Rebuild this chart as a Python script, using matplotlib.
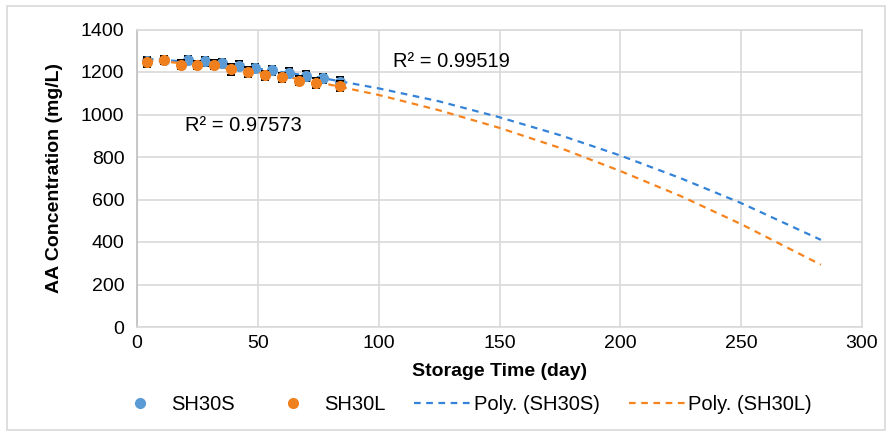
import matplotlib
matplotlib.use("Agg")
import matplotlib.pyplot as plt
from matplotlib.patches import Rectangle

plt.rcParams["font.family"] = ["Liberation Sans", "DejaVu Sans"]

# measured points
s_days = [4, 11, 21, 28, 35, 42, 49, 56, 63, 70, 77, 84]
s_vals = [1250, 1255, 1255, 1250, 1242, 1230, 1220, 1208, 1197, 1182, 1170, 1155]
s_err = [20, 18, 18, 20, 20, 22, 20, 22, 20, 22, 20, 22]

l_days = [4, 11, 18, 25, 32, 39, 46, 53, 60, 67, 74, 84]
l_vals = [1245, 1255, 1235, 1232, 1235, 1212, 1200, 1185, 1175, 1160, 1148, 1135]
l_err = [22, 18, 20, 20, 20, 25, 22, 22, 22, 22, 22, 25]

# polynomial trendlines
trend_days = [4, 25, 50, 75, 100, 125, 150, 175, 200, 225, 250, 283]
s_trend = [1262, 1245, 1216, 1175, 1123, 1062, 987, 903, 807, 700, 583, 410]
l_trend = [1256, 1235, 1199, 1152, 1092, 1020, 937, 843, 734, 616, 484, 293]

blue = "#5b9bd5"
orange = "#f07f1d"
blue_line = "#3483d8"
orange_line = "#f5841f"
grid = "#d9d9d9"

fig = plt.figure(figsize=(8.91, 4.37), dpi=100)
ax = fig.add_axes([137 / 891, 1 - 327 / 437, (862 - 137) / 891, (327 - 29.5) / 437])

fig.patches.append(Rectangle((7 / 891, 1 - 430 / 437), 878 / 891, 424 / 437,
                             transform=fig.transFigure, fill=False,
                             edgecolor=grid, lw=1.2))

(tr_s,) = ax.plot(trend_days, s_trend, color=blue_line, lw=1.6, dashes=(3, 2.5),
                  label="Poly. (SH30S)", zorder=2)
(tr_l,) = ax.plot(trend_days, l_trend, color=orange_line, lw=1.6, dashes=(3, 2.5),
                  label="Poly. (SH30L)", zorder=2)

eb_s = ax.errorbar(s_days, s_vals, yerr=s_err, fmt="o", color=blue, ms=7,
                   ecolor="black", elinewidth=1.4, capsize=3, capthick=1.4,
                   label="SH30S", zorder=3)
eb_l = ax.errorbar(l_days, l_vals, yerr=l_err, fmt="o", color=orange, ms=7,
                   ecolor="black", elinewidth=1.4, capsize=3, capthick=1.4,
                   label="SH30L", zorder=4)

ax.text(106, 1250, "R² = 0.99519", fontsize=14.5, va="center", ha="left")
ax.text(20, 948, "R² = 0.97573", fontsize=14.5, va="center", ha="left")

ax.set_xlim(0, 300)
ax.set_ylim(0, 1400)
ax.set_xticks(range(0, 301, 50))
ax.set_yticks(range(0, 1401, 200))
ax.tick_params(length=0, labelsize=14, colors="black")
ax.tick_params(axis="y", pad=9)
ax.tick_params(axis="x", pad=6)
ax.grid(True, color=grid, lw=1.2)
ax.set_axisbelow(True)
for side, spine in ax.spines.items():
    spine.set_color(grid)
    spine.set_linewidth(1.2)
ax.spines["left"].set_color("#bfbfbf")

ax.set_xlabel("Storage Time (day)", fontsize=14, fontweight="bold", labelpad=8)
ax.set_ylabel("AA Concentration (mg/L)", fontsize=14, fontweight="bold", labelpad=13)

fig.legend(handles=[eb_s[0], eb_l[0], tr_s, tr_l],
           labels=["SH30S", "SH30L", "Poly. (SH30S)", "Poly. (SH30L)"],
           loc="center", bbox_to_anchor=(462 / 891, 1 - 405 / 437), ncol=4,
           frameon=False, fontsize=14.5, handlelength=2.8, handletextpad=0.15,
           columnspacing=1.45)

fig.savefig("out.png", dpi=100)
